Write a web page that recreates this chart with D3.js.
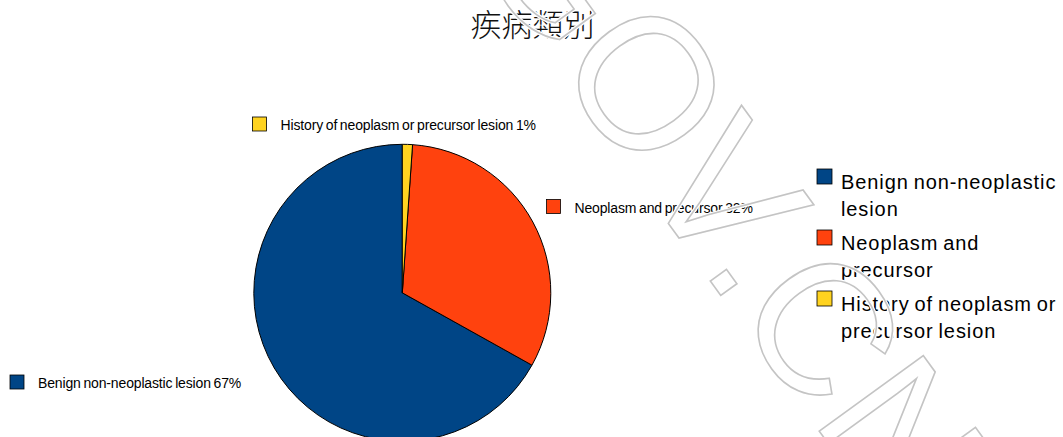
<!DOCTYPE html>
<html>
<head>
<meta charset="utf-8">
<script src="https://cdn.jsdelivr.net/npm/d3@7/dist/d3.min.js"></script>
<style>
  html, body { margin: 0; padding: 0; background: #fff; }
  svg { display: block; }
</style>
</head>
<body>
<script>
// ---- data ----
const title = "疾病類別";
const categories = ["Benign non-neoplastic lesion", "Neoplasm and precursor", "History of neoplasm or precursor lesion"];
const legendLines = [["Benign non-neoplastic", "lesion"], ["Neoplasm and", "precursor"], ["History of neoplasm or", "precursor lesion"]];
const values = [66.9, 32.0, 1.1];
const colors = ["#004586", "#ff420e", "#ffd320"];
const watermarkText = "GOV.CN";

// ---- layout ----
const W = 1063, H = 437;
const cx = 402.3, cy = 292.8, R = 148.5;
// top-left of each data-label swatch
const labelLayout = [{x: 10, y: 375}, {x: 546.5, y: 199.5}, {x: 252.5, y: 117}];

const svg = d3.select("body").append("svg").attr("width", W).attr("height", H);

svg.append("text")
  .attr("x", W / 2 + 1).attr("y", 36)
  .attr("text-anchor", "middle")
  .style("font-family", "'Noto Sans CJK TC', 'Noto Sans CJK SC', sans-serif")
  .style("font-weight", 300)
  .style("font-size", "31px")
  .attr("fill", "#111")
  .text(title);

const data = categories.map((c, i) => ({name: c, value: values[i], color: colors[i]}));
const pie = d3.pie().sort(null).value(d => d.value).startAngle(0).endAngle(-2 * Math.PI);
const arc = d3.arc().innerRadius(0).outerRadius(R);

const g = svg.append("g").attr("transform", `translate(${cx},${cy})`);
g.selectAll("path").data(pie(data)).join("path")
  .attr("d", arc)
  .attr("fill", d => d.data.color)
  .attr("stroke", "#000")
  .attr("stroke-width", 1)
  .attr("stroke-linejoin", "round");

// data labels
const total = d3.sum(values);
const lab = svg.append("g");
data.forEach((d, i) => {
  const p = labelLayout[i];
  lab.append("rect")
    .attr("x", p.x).attr("y", p.y).attr("width", 14).attr("height", 14)
    .attr("fill", d.color).attr("stroke", "#000").attr("stroke-width", 0.8);
  lab.append("text")
    .attr("x", p.x + 28).attr("y", p.y + 13)
    .style("font-family", "'Liberation Sans', Arial, sans-serif")
    .style("font-size", "14px")
    .style("letter-spacing", "-0.15px")
    .style("word-spacing", "-1px")
    .attr("fill", "#000")
    .text(`${d.name} ${Math.round(d.value / total * 100)}%`);
});

// legend
const leg = svg.append("g");
data.forEach((d, i) => {
  const top = 169 + i * 61;
  leg.append("rect")
    .attr("x", 817).attr("y", top).attr("width", 15).attr("height", 15)
    .attr("fill", d.color).attr("stroke", "#000").attr("stroke-width", 0.8);
  legendLines[i].forEach((line, j) => {
    leg.append("text")
      .attr("x", 841).attr("y", top + 20 + j * 27)
      .style("font-family", "'Liberation Sans', Arial, sans-serif")
      .style("font-size", "20px")
      .style("letter-spacing", "0.9px")
      .style("word-spacing", "-1.5px")
      .attr("fill", "#000")
      .text(line);
  });
});

// watermark
const wm = svg.append("g").attr("transform", "translate(466,-55) rotate(54)");
wm.append("text")
  .style("font-family", "'Liberation Sans', Arial, sans-serif")
  .style("font-size", "187px")
  .attr("fill", "none").attr("stroke", "#fff").attr("stroke-width", 4)
  .text(watermarkText);
wm.append("text")
  .style("font-family", "'Liberation Sans', Arial, sans-serif")
  .style("font-size", "187px")
  .attr("fill", "none").attr("stroke", "#c4c4c4").attr("stroke-width", 1.6)
  .text(watermarkText);
</script>
</body>
</html>
